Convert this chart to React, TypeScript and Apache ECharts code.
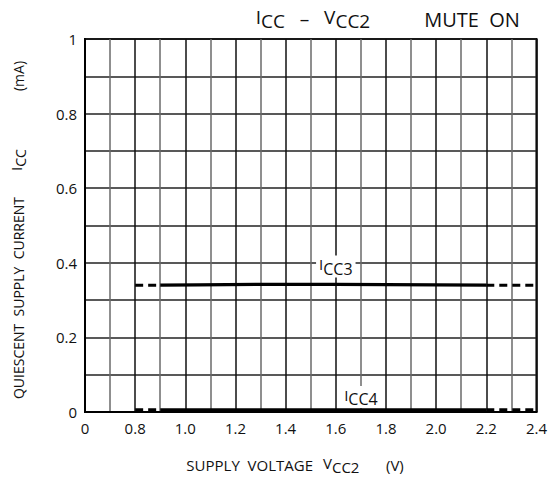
import React, { useEffect, useRef } from "react";
import * as echarts from "echarts";

// ---- data ----
// x tick labels (axis is broken: 0 -> 0.8 compressed into two cells, then 0.1 per cell)
const xTickLabels = ["0", "", "0.8", "", "1.0", "", "1.2", "", "1.4", "", "1.6", "", "1.8", "", "2.0", "", "2.2", "", "2.4"];
const yTickLabels = ["0", "", "0.2", "", "0.4", "", "0.6", "", "0.8", "", "1"];

// ICC3 (mA) vs VCC2 (V)
const icc3DashLeftV = [0.8, 0.9];
const icc3DashLeftI = [0.34, 0.34];
const icc3SolidV = [0.9, 1.05, 1.3, 1.6, 2.0, 2.2];
const icc3SolidI = [0.34, 0.341, 0.342, 0.342, 0.341, 0.34];
const icc3DashRightV = [2.2, 2.4];
const icc3DashRightI = [0.34, 0.34];

// ICC4 (mA) vs VCC2 (V)
const icc4DashLeftV = [0.8, 0.9];
const icc4DashLeftI = [0.005, 0.005];
const icc4SolidV = [0.9, 1.6, 2.2];
const icc4SolidI = [0.005, 0.005, 0.005];
const icc4DashRightV = [2.2, 2.4];
const icc4DashRightI = [0.005, 0.005];

// curve labels
const curveLabels = [
  { name: "CC3", v: 1.6, i: 0.39 },
  { name: "CC4", v: 1.7, i: 0.04 },
];

const FONT = "'Open Sans', 'DejaVu Sans', sans-serif";

// map voltage to axis position (broken axis)
const toPos = (v: number) => (v <= 0.8 ? v / 0.4 : 2 + (v - 0.8) / 0.1);
const pts = (vs: number[], is: number[]) => vs.map((v, k) => [toPos(v), is[k]]);

const subRich = (size: number, lh: number) => ({
  i: { fontSize: size, fontFamily: FONT, fill: "#111", color: "#111", verticalAlign: "top", lineHeight: lh },
  c: { fontSize: size, fontFamily: FONT, fill: "#111", color: "#111", verticalAlign: "bottom", lineHeight: lh },
});

export default function App() {
  const ref = useRef<HTMLDivElement>(null);
  useEffect(() => {
    if (!ref.current) return;
    const chart = echarts.init(ref.current, undefined, { renderer: "svg" });
    const dashed = (w: number) => ({ color: "#000", width: w, type: [8, 5] as any });
    const lineBase = { type: "line" as const, symbol: "none", silent: true, z: 3 };
    const txt = (text: string, x: number, y: number, size: number, align: string, extra: any = {}) => ({
      type: "text",
      x,
      y,
      ...extra,
      style: { text, align, verticalAlign: "middle", fontSize: size, fontFamily: FONT, fill: "#111", rich: subRich(size, size + 4) },
    });
    chart.setOption({
      animation: false,
      backgroundColor: "#fff",
      grid: { left: 85, right: 11, top: 39, bottom: 65, show: true, borderColor: "#000", borderWidth: 2, backgroundColor: "transparent" },
      xAxis: {
        type: "value",
        min: 0,
        max: 18,
        interval: 1,
        axisLine: { show: true, lineStyle: { color: "#000", width: 2 } },
        axisTick: { show: false },
        splitLine: { show: true, lineStyle: { color: ["#111", "#6a6a6a"], width: 1.5 } },
        axisLabel: {
          margin: 8,
          fontSize: 15,
          fontFamily: FONT,
          color: "#111",
          formatter: (v: number) => xTickLabels[Math.round(v)] ?? "",
        },
      },
      yAxis: {
        type: "value",
        min: 0,
        max: 1,
        interval: 0.1,
        axisLine: { show: true, lineStyle: { color: "#000", width: 2 } },
        axisTick: { show: false },
        splitLine: { show: true, lineStyle: { color: "#222", width: 1.6 } },
        axisLabel: {
          margin: 8,
          fontSize: 15,
          fontFamily: FONT,
          color: "#111",
          formatter: (v: number) => yTickLabels[Math.round(v * 10)] ?? "",
        },
      },
      series: [
        { ...lineBase, data: pts(icc3DashLeftV, icc3DashLeftI), lineStyle: dashed(3) },
        { ...lineBase, data: pts(icc3SolidV, icc3SolidI), lineStyle: { color: "#000", width: 3.2 } },
        { ...lineBase, data: pts(icc3DashRightV, icc3DashRightI), lineStyle: dashed(3) },
        { ...lineBase, data: pts(icc4DashLeftV, icc4DashLeftI), lineStyle: dashed(4) },
        { ...lineBase, data: pts(icc4SolidV, icc4SolidI), lineStyle: { color: "#000", width: 4 } },
        { ...lineBase, data: pts(icc4DashRightV, icc4DashRightI), lineStyle: dashed(4) },
        {
          type: "scatter",
          silent: true,
          z: 5,
          symbolSize: 0,
          itemStyle: { color: "transparent" },
          data: curveLabels.map((c) => ({ value: [toPos(c.v), c.i], name: c.name })),
          label: {
            show: true,
            position: "inside",
            opacity: 1,
            backgroundColor: "#fff",
            padding: [1, 3, 1, 3],
            formatter: (p: any) => `{i|I}{c|${p.name}}`,
            rich: {
              i: { fontSize: 15, fontFamily: FONT, color: "#111", verticalAlign: "top", lineHeight: 20 },
              c: { fontSize: 16, fontFamily: FONT, color: "#111", verticalAlign: "bottom", lineHeight: 20 },
            },
          },
        },
      ],
      graphic: [
        txt("{i|I}{c|CC}   –   {i|V}{c|CC2}", 313, 19, 19, "center"),
        txt("MUTE  ON", 472, 19, 20, "center"),
        txt("QUIESCENT  SUPPLY  CURRENT", 18, 298, 14, "center", { rotation: Math.PI / 2 }),
        txt("{i|I}{c|CC}", 18, 160, 14, "center", { rotation: Math.PI / 2 }),
        txt("(mA)", 18, 76, 14, "center", { rotation: Math.PI / 2 }),
        txt("SUPPLY  VOLTAGE", 313, 465, 15, "right"),
        txt("{i|V}{c|CC2}", 323, 465, 15, "left"),
        txt("(V)", 386, 465, 15, "left"),
      ],
    });
    return () => chart.dispose();
  }, []);
  return <div ref={ref} style={{ width: 550, height: 477, position: "absolute", left: 0, top: 0 }} />;
}
